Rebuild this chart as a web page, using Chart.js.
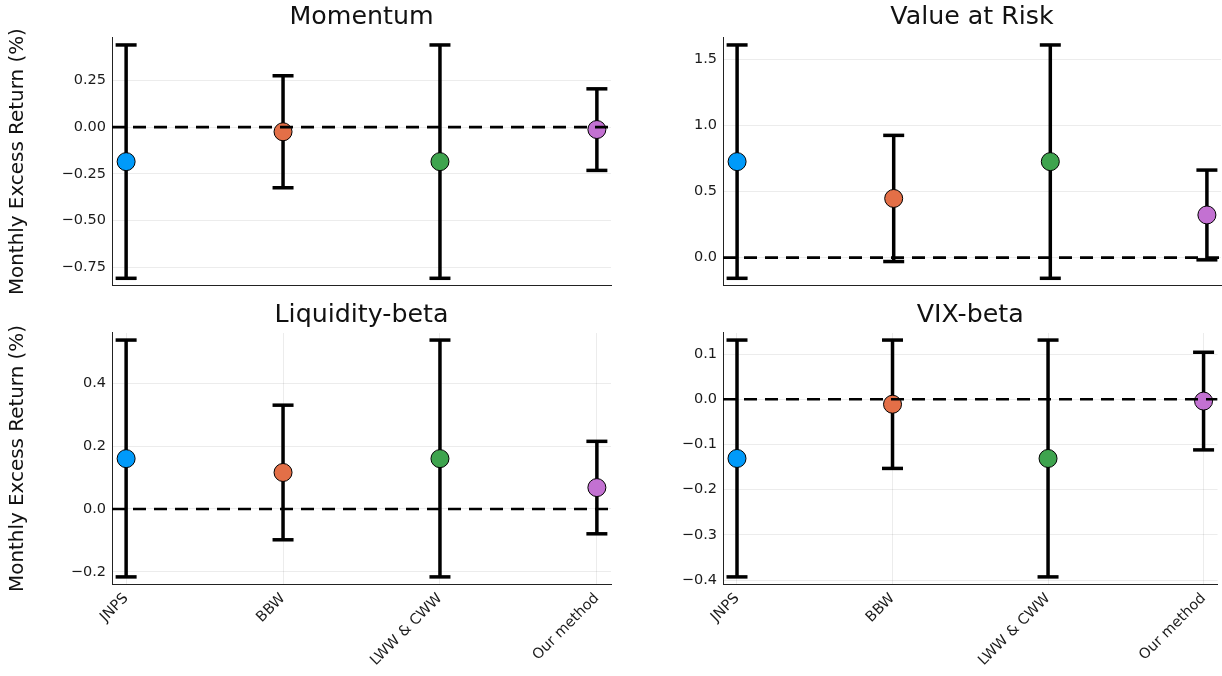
<!DOCTYPE html>
<html>
<head>
<meta charset="utf-8">
<script src="https://cdn.jsdelivr.net/npm/chart.js@4.4.1/dist/chart.umd.min.js"></script>
<style>
    html, body { margin: 0; padding: 0; background: #fff; }
    #wrap { position: relative; width: 1222px; height: 676px; overflow: hidden; }
    canvas { position: absolute; }
</style>
</head>
<body>
<div id="wrap">
    <canvas id="momentumChart" width="620" height="300" style="left:0;top:0"></canvas>
    <canvas id="varChart" width="611" height="300" style="left:611px;top:0"></canvas>
    <canvas id="liquidityChart" width="620" height="376" style="left:0;top:300px"></canvas>
    <canvas id="vixChart" width="611" height="376" style="left:611px;top:300px"></canvas>
</div>
<script>
// Données
const methods = ['JNPS', 'BBW', 'LWW & CWW', 'Our method'];
const methodColors = ['#009AFA', '#E36F47', '#3EA44E', '#C371D2'];

const momentumMean = [-0.185, -0.025, -0.185, -0.013];
const momentumLow = [-0.81, -0.325, -0.81, -0.232];
const momentumHigh = [0.44, 0.275, 0.44, 0.205];
const momentumTicks = [-0.75, -0.5, -0.25, 0, 0.25];

const varMean = [0.727, 0.448, 0.727, 0.323];
const varLow = [-0.157, -0.03, -0.157, -0.017];
const varHigh = [1.611, 0.926, 1.611, 0.663];
const varTicks = [0, 0.5, 1.0, 1.5];

const liquidityMean = [0.16, 0.116, 0.16, 0.068];
const liquidityLow = [-0.216, -0.098, -0.216, -0.079];
const liquidityHigh = [0.537, 0.33, 0.537, 0.215];
const liquidityTicks = [-0.2, 0, 0.2, 0.4];

const vixMean = [-0.131, -0.011, -0.131, -0.004];
const vixLow = [-0.393, -0.153, -0.393, -0.112];
const vixHigh = [0.131, 0.131, 0.131, 0.104];
const vixTicks = [-0.4, -0.3, -0.2, -0.1, 0, 0.1];

// limites des axes x (marge de 3% comme Plots.jl)
const xLimits = [-0.09, 3.09];

Chart.defaults.font.family = "'DejaVu Sans', sans-serif";
Chart.defaults.color = '#1a1a1a';
Chart.defaults.animation = false;

const gridColor = 'rgba(0, 0, 0, 0.075)';

function padLimits(low, high) {
    const lo = Math.min(...low), hi = Math.max(...high);
    const pad = (hi - lo) * 0.03;
    return [lo - pad, hi + pad];
}

function makePanel(id, cfg) {
    const [yMin, yMax] = padLimits(cfg.low, cfg.high);

    // une barre d'erreur = un segment vertical avec des "tirets" aux extrémités
    const errorBars = methods.map((m, i) => ({
        type: 'line',
        data: [{ x: i, y: cfg.low[i] }, { x: i, y: cfg.high[i] }],
        borderColor: '#000',
        borderWidth: 3.5,
        pointStyle: 'line',
        pointRadius: 10.5,
        pointBorderWidth: 3.5,
        pointBorderColor: '#000',
        clip: false,
        order: 2
    }));

    return new Chart(document.getElementById(id), {
        type: 'scatter',
        data: {
            datasets: [
                {
                    type: 'line',
                    data: [{ x: xLimits[0], y: 0 }, { x: xLimits[1], y: 0 }],
                    borderColor: '#000',
                    borderWidth: 2.6,
                    borderDash: [13, 8],
                    pointRadius: 0,
                    order: 0
                },
                {
                    type: 'scatter',
                    data: cfg.mean.map((v, i) => ({ x: i, y: v })),
                    backgroundColor: methodColors,
                    borderColor: '#000',
                    borderWidth: 1,
                    pointRadius: 9,
                    clip: false,
                    order: 1
                },
                ...errorBars
            ]
        },
        options: {
            responsive: false,
            layout: { autoPadding: false, padding: { left: 0, right: cfg.padRight, top: 0, bottom: 0 } },
            plugins: {
                legend: { display: false },
                tooltip: { enabled: false },
                title: {
                    display: true,
                    text: cfg.title,
                    fullSize: false,
                    color: '#111',
                    font: { size: 25.3, weight: 'normal' },
                    padding: cfg.titlePad
                }
            },
            scales: {
                x: {
                    type: 'linear',
                    min: xLimits[0],
                    max: xLimits[1],
                    afterBuildTicks: (scale) => {
                        scale.ticks = methods.map((m, i) => ({ value: i }));
                    },
                    afterFit: (scale) => { scale.height = cfg.xHeight; },
                    ticks: {
                        display: cfg.showX,
                        minRotation: 45,
                        maxRotation: 45,
                        padding: 6,
                        font: { size: 14.5 },
                        callback: (v) => methods[v]
                    },
                    grid: { display: cfg.showX, color: gridColor, drawTicks: false },
                    border: { display: true, color: '#222', width: 1 }
                },
                y: {
                    min: yMin,
                    max: yMax,
                    afterBuildTicks: (scale) => {
                        scale.ticks = cfg.ticks.map(v => ({ value: v }));
                    },
                    afterFit: (scale) => { scale.width = 112; },
                    ticks: {
                        padding: 6,
                        font: { size: 14.5 },
                        callback: (v) => v.toFixed(cfg.decimals).replace('-', '\u2212')
                    },
                    grid: { color: gridColor, drawTicks: false },
                    border: { display: true, color: '#222', width: 1 },
                    title: {
                        display: cfg.yTitle,
                        text: 'Monthly Excess Return (%)',
                        font: { size: 19.9 },
                        color: '#111',
                        padding: { top: 6, bottom: 0 }
                    }
                }
            }
        }
    });
}

makePanel('momentumChart', {
    title: 'Momentum', mean: momentumMean, low: momentumLow, high: momentumHigh,
    ticks: momentumTicks, decimals: 2, yTitle: true, showX: false,
    padRight: 9, xHeight: 12, titlePad: { top: 2, bottom: 5.6 }
});
makePanel('varChart', {
    title: 'Value at Risk', mean: varMean, low: varLow, high: varHigh,
    ticks: varTicks, decimals: 1, yTitle: false, showX: false,
    padRight: 1, xHeight: 12, titlePad: { top: 2, bottom: 5.6 }
});
makePanel('liquidityChart', {
    title: 'Liquidity-beta', mean: liquidityMean, low: liquidityLow, high: liquidityHigh,
    ticks: liquidityTicks, decimals: 1, yTitle: true, showX: true,
    padRight: 9, xHeight: 92, titlePad: { top: 0, bottom: 2.6 }
});
makePanel('vixChart', {
    title: 'VIX-beta', mean: vixMean, low: vixLow, high: vixHigh,
    ticks: vixTicks, decimals: 1, yTitle: false, showX: true,
    padRight: 1, xHeight: 92, titlePad: { top: 0, bottom: 2.6 }
});
</script>
</body>
</html>
